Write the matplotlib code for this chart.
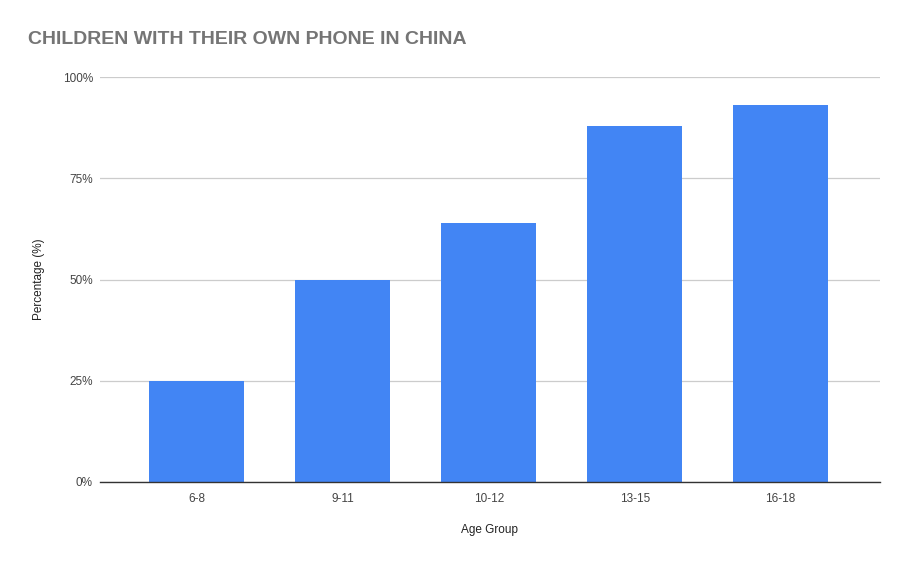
import matplotlib
matplotlib.use("Agg")
import matplotlib.pyplot as plt
from matplotlib.ticker import FuncFormatter

age_groups = ["6-8", "9-11", "10-12", "13-15", "16-18"]
percentages = [25, 50, 64, 88, 93]
y_ticks = [0, 25, 50, 75, 100]

plt.rcParams['font.family'] = ['Liberation Sans', 'DejaVu Sans']

fig = plt.figure(figsize=(9.08, 5.63), dpi=100)
ax = fig.add_axes([0.110, 0.144, 0.859, 0.719])

x = list(range(len(age_groups)))
ax.bar(x, percentages, width=0.65, color="#4285f4", zorder=3)

ax.set_xlim(-0.665, 4.68)
ax.set_ylim(0, 100)
ax.set_yticks(y_ticks)
ax.yaxis.set_major_formatter(FuncFormatter(lambda v, p: "%d%%" % v))
ax.set_xticks(x)
ax.set_xticklabels(age_groups)

ax.grid(axis="y", color="#cccccc", linewidth=0.9, zorder=0)
for s in ["top", "right", "left"]:
    ax.spines[s].set_visible(False)
ax.spines["bottom"].set_color("#333333")
ax.spines["bottom"].set_linewidth(1.0)
ax.spines["bottom"].set_zorder(4)
ax.tick_params(axis="both", length=0, labelsize=8.5, labelcolor="#444444")
ax.tick_params(axis="y", pad=5)
ax.tick_params(axis="x", pad=8)

ax.set_ylabel("Percentage (%)", fontsize=8.5, color="#222222", labelpad=13)
ax.set_xlabel("Age Group", fontsize=8.5, color="#222222", labelpad=14)

fig.text(0.031, 0.929, "CHILDREN WITH THEIR OWN PHONE IN CHINA", fontsize=14,
         fontweight="bold", color="#757575", va="center", ha="left")

fig.savefig("out.png", dpi=100)
